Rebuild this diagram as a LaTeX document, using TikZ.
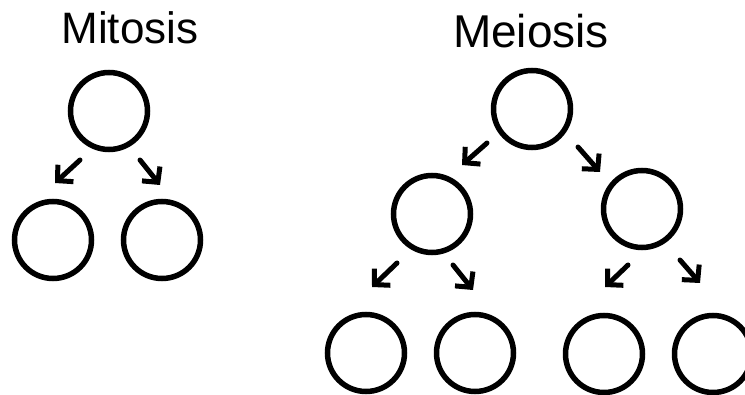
\documentclass[tikz,border=0pt]{standalone}
\usepackage{fontspec}
\setmainfont{Liberation Sans}
\usetikzlibrary{arrows.meta}
\begin{document}
\begin{tikzpicture}[x=1pt,y=-1pt,
  cell/.style={draw=black,circle,line width=5.5pt,minimum size=77pt,inner sep=0pt},
  split/.style={line width=5pt,line cap=round,line join=round,-{Straight Barb[length=11pt,width=23pt]}},
  title/.style={anchor=base,inner sep=0pt}]
\useasboundingbox[fill=white] (0,0) rectangle (745,395);
% titles
\node[title,font=\fontsize{44}{50}\selectfont] (tmit) at (130,44) {Mitosis};
\node[title,font=\fontsize{46}{54}\selectfont] (tmei) at (531,48) {Meiosis};
% mitosis
\node[cell] (m0) at (109,111) {};
\node[cell] (m1) at (53,240) {};
\node[cell] (m2) at (162,240) {};
\coordinate (ma1) at (80,160);  \coordinate (mb1) at (55,183);
\coordinate (ma2) at (140,160); \coordinate (mb2) at (160,185);
\draw[split] (ma1) -- (mb1);
\draw[split] (ma2) -- (mb2);
% meiosis
\node[cell] (e0) at (532,109) {};
\node[cell] (e1) at (432,214) {};
\node[cell] (e2) at (642,209) {};
\node[cell] (f1) at (366,353) {};
\node[cell] (f2) at (475,353) {};
\node[cell] (f3) at (604,354) {};
\node[cell] (f4) at (713,354) {};
\coordinate (ea1) at (487,143); \coordinate (eb1) at (462,165);
\coordinate (ea2) at (578,147); \coordinate (eb2) at (600,172);
\coordinate (fa1) at (397,263); \coordinate (fb1) at (372,287);
\coordinate (fa2) at (453,265); \coordinate (fb2) at (473,290);
\coordinate (fa3) at (628,265); \coordinate (fb3) at (605,287);
\coordinate (fa4) at (680,260); \coordinate (fb4) at (700,283);
\draw[split] (ea1) -- (eb1);
\draw[split] (ea2) -- (eb2);
\draw[split] (fa1) -- (fb1);
\draw[split] (fa2) -- (fb2);
\draw[split] (fa3) -- (fb3);
\draw[split] (fa4) -- (fb4);
\end{tikzpicture}
\end{document}
